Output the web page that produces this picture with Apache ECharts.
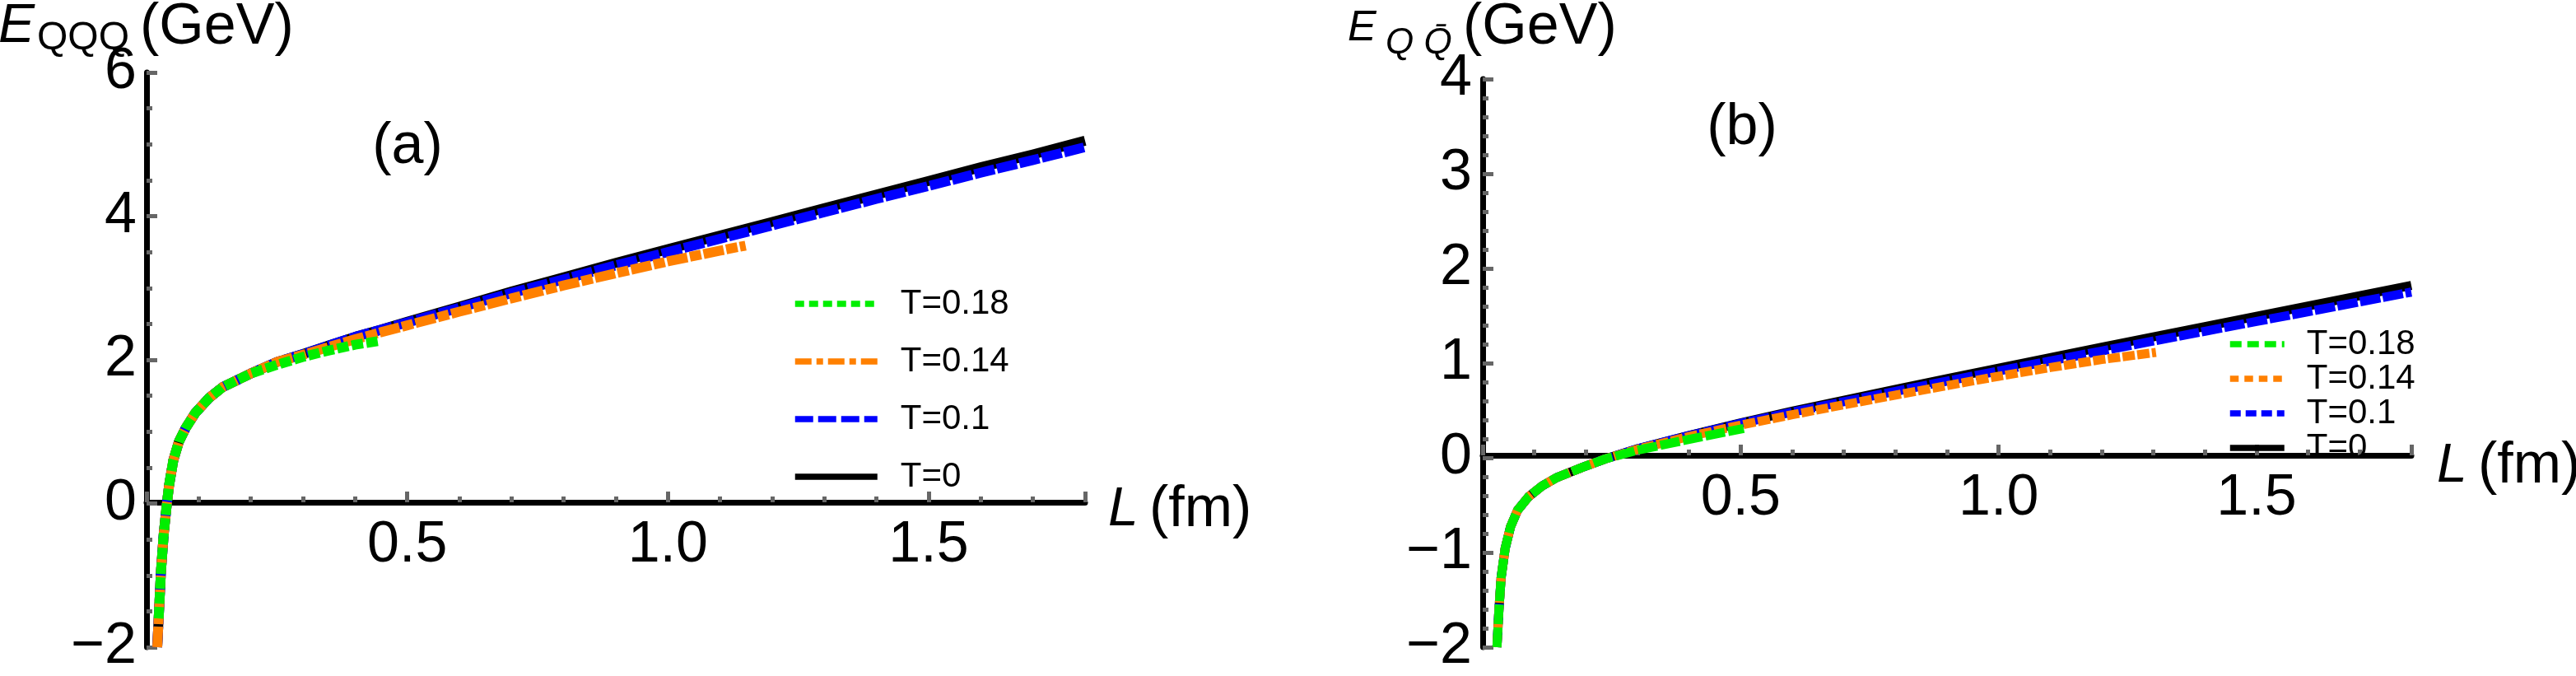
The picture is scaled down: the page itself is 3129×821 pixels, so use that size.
<!DOCTYPE html>
<html lang="en">
<head>
<meta charset="UTF-8">
<title>E_QQQ and E_QQbar versus L</title>
<script src="https://cdn.jsdelivr.net/npm/echarts@6.0.0/dist/echarts.min.js"></script>
<style>
  html, body { margin: 0; padding: 0; background: #fff; }
  #main { width: 3129px; height: 821px; }
</style>
</head>
<body>
<div id="main"></div>
<script>
// ---- panel (a): E_QQQ (GeV) vs L (fm) ----
var aL_T0 = [0.0205, 0.024, 0.0276, 0.033, 0.039, 0.0434, 0.0513, 0.062, 0.075, 0.0935, 0.12, 0.146, 0.2, 0.25,
             0.3, 0.35, 0.4, 0.45, 0.5, 0.6, 0.7, 0.8, 0.9, 1.0, 1.1, 1.2, 1.3, 1.4, 1.5, 1.6, 1.7, 1.8];
var aE_T0 = [-2.0, -1.49, -0.95, -0.42, 0.0, 0.26, 0.6, 0.86, 1.05, 1.26, 1.47, 1.62, 1.81, 1.97,
             2.08, 2.2, 2.32, 2.42, 2.53, 2.74, 2.95, 3.15, 3.35, 3.54, 3.73, 3.92, 4.11, 4.3, 4.49, 4.68, 4.86, 5.05];
var aE_T01 = [-2.0, -1.49, -0.95, -0.42, 0.0, 0.26, 0.6, 0.86, 1.05, 1.26, 1.47, 1.62, 1.81, 1.97,
              2.08, 2.2, 2.32, 2.42, 2.52, 2.725, 2.93, 3.12, 3.315, 3.5, 3.685, 3.87, 4.055, 4.24, 4.42, 4.605, 4.78, 4.96];
var aL_T014 = [0.0205, 0.024, 0.0276, 0.033, 0.039, 0.0434, 0.0513, 0.062, 0.075, 0.0935, 0.12, 0.146, 0.2, 0.25,
               0.3, 0.35, 0.4, 0.45, 0.5, 0.6, 0.7, 0.8, 0.9, 1.0, 1.1, 1.149];
var aE_T014 = [-2.0, -1.49, -0.95, -0.42, 0.0, 0.26, 0.6, 0.86, 1.05, 1.26, 1.47, 1.62, 1.81, 1.97,
               2.07, 2.18, 2.285, 2.385, 2.48, 2.67, 2.855, 3.035, 3.205, 3.37, 3.52, 3.59];
var aL_T018 = [0.0232, 0.0276, 0.033, 0.039, 0.0434, 0.0513, 0.062, 0.075, 0.0935, 0.12, 0.146, 0.2, 0.25,
               0.3, 0.35, 0.4, 0.449];
var aE_T018 = [-1.6, -0.95, -0.42, 0.0, 0.26, 0.6, 0.86, 1.05, 1.26, 1.47, 1.62, 1.81, 1.93,
               2.04, 2.13, 2.21, 2.265];

// ---- panel (b): E_QQbar (GeV) vs L (fm) ----
var bL_T0 = [0.0276, 0.0314, 0.0356, 0.0436, 0.054, 0.0675, 0.0888, 0.115, 0.142, 0.195, 0.238,
             0.3, 0.4, 0.5, 0.6, 0.7, 0.8, 0.9, 1.0, 1.1, 1.2, 1.3, 1.4, 1.5, 1.6, 1.7, 1.8];
var bE_T0 = [-2.0, -1.61, -1.27, -0.955, -0.727, -0.555, -0.412, -0.298, -0.212, -0.097, -0.011,
             0.095, 0.237, 0.369, 0.493, 0.607, 0.722, 0.835, 0.947, 1.058, 1.168, 1.278, 1.386, 1.495, 1.603, 1.712, 1.82];
var bE_T01 = [-2.0, -1.61, -1.27, -0.955, -0.727, -0.555, -0.412, -0.298, -0.212, -0.097, -0.011,
              0.095, 0.235, 0.364, 0.483, 0.592, 0.702, 0.81, 0.917, 1.023, 1.128, 1.233, 1.336, 1.44, 1.543, 1.647, 1.75];
var bL_T014 = [0.0276, 0.0314, 0.0356, 0.0436, 0.054, 0.0675, 0.0888, 0.115, 0.142, 0.195, 0.238,
               0.3, 0.4, 0.5, 0.6, 0.7, 0.8, 0.9, 1.0, 1.1, 1.2, 1.305];
var bE_T014 = [-2.0, -1.61, -1.27, -0.955, -0.727, -0.555, -0.412, -0.298, -0.212, -0.097, -0.011,
               0.09, 0.225, 0.345, 0.455, 0.56, 0.662, 0.762, 0.861, 0.953, 1.038, 1.113];
var bL_T018 = [0.0276, 0.0314, 0.0356, 0.0436, 0.054, 0.0675, 0.0888, 0.115, 0.142, 0.195, 0.238,
               0.3, 0.4, 0.506];
var bE_T018 = [-2.0, -1.61, -1.27, -0.955, -0.727, -0.555, -0.412, -0.298, -0.212, -0.097, -0.011,
               0.08, 0.195, 0.31];

var names = ['T=0', 'T=0.1', 'T=0.14', 'T=0.18'];
var colors = ['#000000', '#0000ff', '#ff8000', '#00ee00'];
var xTicks = [0, 1.8, 0.5];          // min, max, interval
var aYTicks = [-2, 6, 2];
var bYTicks = [-2, 4, 1];

var FONT = 'Liberation Sans';

function pairs(xs, ys) {
    return xs.map(function (x, i) { return [x, ys[i]]; });
}

function minusSign(v) {
    return v < 0 ? '\u2212' + Math.abs(v) : String(v);
}

// x axis sits on E = 0, so it is pushed up from the bottom of the grid
function makeX(gridIndex, offset) {
    return {
        type: 'value', gridIndex: gridIndex, position: 'bottom', offset: offset,
        min: xTicks[0], max: xTicks[1], interval: xTicks[2],
        splitLine: {show: false},
        axisLine: {show: true, onZero: false, lineStyle: {color: '#000', width: 7}},
        axisTick: {show: true, inside: true, length: 13, lineStyle: {color: '#666', width: 5}},
        minorTick: {show: true, splitNumber: 5, length: 7, lineStyle: {color: '#666', width: 5}},
        axisLabel: {
            show: true, margin: 18, color: '#000', fontFamily: FONT, fontSize: 70,
            showMinLabel: false, showMaxLabel: false,
            formatter: function (v) { return v.toFixed(1); }
        }
    };
}

function makeY(gridIndex, t, split, margin) {
    return {
        type: 'value', gridIndex: gridIndex,
        min: t[0], max: t[1], interval: t[2],
        splitLine: {show: false},
        axisLine: {show: true, onZero: false, lineStyle: {color: '#000', width: 7}},
        axisTick: {show: true, inside: true, length: 13, lineStyle: {color: '#666', width: 5}},
        minorTick: {show: true, splitNumber: split, length: 7, lineStyle: {color: '#666', width: 5}},
        axisLabel: {
            show: true, margin: margin, color: '#000', fontFamily: FONT, fontSize: 70,
            showMinLabel: true, showMaxLabel: true,
            formatter: minusSign
        }
    };
}

function line(name, idx, data, dash, width) {
    var i = names.indexOf(name);
    return {
        name: name, type: 'line', xAxisIndex: idx, yAxisIndex: idx,
        data: data, symbol: 'none', showSymbol: false, smooth: false,
        color: colors[i],
        lineStyle: {color: colors[i], width: width, type: dash, cap: 'butt', join: 'round'},
        emphasis: {disabled: true}, silent: true
    };
}

var series = [
    line('T=0', 0, pairs(aL_T0, aE_T0), 'solid', 12),
    line('T=0.1', 0, pairs(aL_T0, aE_T01), [25, 3], 12),
    line('T=0.14', 0, pairs(aL_T014, aE_T014), [25, 3, 14, 3], 12),
    line('T=0.18', 0, pairs(aL_T018, aE_T018), [14, 4], 12),
    line('T=0', 1, pairs(bL_T0, bE_T0), 'solid', 11),
    line('T=0.1', 1, pairs(bL_T0, bE_T01), [25, 3], 11),
    line('T=0.14', 1, pairs(bL_T014, bE_T014), [15, 3], 11),
    line('T=0.18', 1, pairs(bL_T018, bE_T018), [24, 4], 11)
];

function txt(x, y, s, size, italic, align) {
    return {
        type: 'text', x: x, y: y, silent: true,
        style: {
            text: s, fill: '#000',
            font: (italic ? 'italic ' : '') + size + 'px "' + FONT + '"',
            align: align || 'left', textAlign: align || 'left',
            verticalAlign: 'middle', textVerticalAlign: 'middle'
        }
    };
}

// legend icons of line series carry a marker; make it invisible
var noMarker = {opacity: 0, borderWidth: 0, color: 'transparent'};

var chart = echarts.init(document.getElementById('main'), null, {renderer: 'canvas'});
chart.setOption({
    animation: false,
    backgroundColor: '#fff',
    grid: [
        {left: 178, top: 88, width: 1140, height: 704},
        {left: 1801, top: 96, width: 1128, height: 699}
    ],
    xAxis: [makeX(0, -176), makeX(1, -233)],
    yAxis: [makeY(0, aYTicks, 4, 12), makeY(1, bYTicks, 5, 13)],
    legend: [
        {
            orient: 'vertical', left: 962, top: 348, padding: 0,
            itemWidth: 100, itemHeight: 14, itemGap: 28, selectedMode: false,
            itemStyle: noMarker,
            textStyle: {fontFamily: FONT, fontSize: 42, lineHeight: 42, color: '#000', padding: [0, 0, 0, 23]},
            data: [
                {name: 'T=0.18', lineStyle: {type: [11, 6], width: 7.5}, itemStyle: noMarker},
                {name: 'T=0.14', lineStyle: {type: [20, 6, 8, 6], width: 7.5}, itemStyle: noMarker},
                {name: 'T=0.1', lineStyle: {type: [22, 6], width: 7.5}, itemStyle: noMarker},
                {name: 'T=0', lineStyle: {type: 'solid', width: 7.5}, itemStyle: noMarker}
            ]
        },
        {
            orient: 'vertical', left: 2705, top: 397, padding: 0,
            itemWidth: 66, itemHeight: 14, itemGap: 0, selectedMode: false,
            itemStyle: noMarker,
            textStyle: {fontFamily: FONT, fontSize: 42, lineHeight: 39, color: '#000', padding: [0, 0, 0, 22]},
            data: [
                {name: 'T=0.18', lineStyle: {type: [14, 7], width: 7.5}, itemStyle: noMarker},
                {name: 'T=0.14', lineStyle: {type: [10.5, 7], width: 7.5}, itemStyle: noMarker},
                {name: 'T=0.1', lineStyle: {type: [13, 6], width: 7.5}, itemStyle: noMarker},
                {name: 'T=0', lineStyle: {type: 'solid', width: 7.5}, itemStyle: noMarker}
            ]
        }
    ],
    graphic: [
        // panel (a) titles
        txt(-2, 33, 'E', 66, true),
        txt(45, 47, 'QQQ', 48, false),
        txt(170, 34, '(GeV)', 70, false),
        txt(495, 179, '(a)', 70, false, 'center'),
        txt(1346, 620, 'L', 66, true),
        txt(1396, 620, '(fm)', 70, false),
        // panel (b) titles
        txt(1637, 35, 'E', 52, true),
        txt(1683, 53, 'Q Q\u0304', 44, true),
        txt(1777, 34, '(GeV)', 70, false),
        txt(2116, 156, '(b)', 70, false, 'center'),
        txt(2960, 567, 'L', 66, true),
        txt(3010, 567, '(fm)', 70, false)
    ],
    series: series
});
</script>
</body>
</html>
